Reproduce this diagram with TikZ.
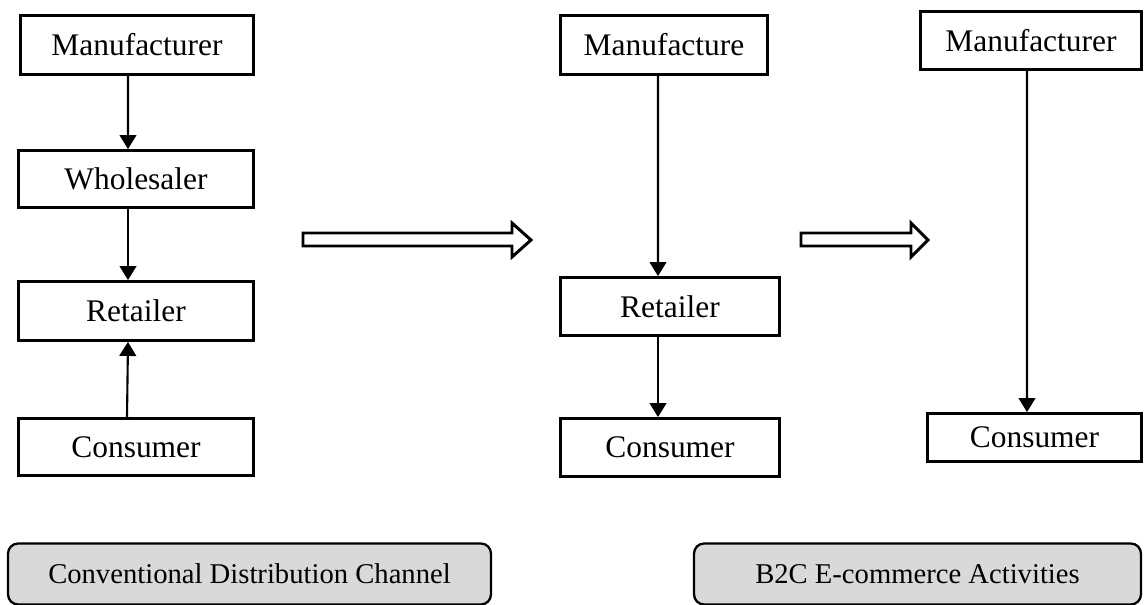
\documentclass[tikz,border=0pt]{standalone}
\usepackage{fontspec}
\setmainfont{Liberation Serif}
\usetikzlibrary{arrows.meta}

\begin{document}
\begin{tikzpicture}
        [
        x=0.02cm, y=-0.02cm,
        box/.style={rectangle, draw, line width=1.6pt, inner sep=0pt, font=\fontsize{17.9}{21}\selectfont},
        channel/.style={rectangle, rounded corners=0.2cm, draw, line width=1.3pt, fill=gray!30, inner sep=0pt, minimum height=1.22cm, font=\fontsize{16.3}{20}\selectfont},
        link/.style={-{Triangle[width=9.5pt,length=8pt]}, line width=1.2pt}
        ]

        \useasboundingbox (0,0) rectangle (1144,605);

        % conventional channel
        \node[box, minimum width=4.66cm, minimum height=1.18cm] (mL) at (137,45) {Manufacturer};
        \node[box, minimum width=4.7cm, minimum height=1.14cm] (wL) at (136,179) {Wholesaler};
        \node[box, minimum width=4.7cm, minimum height=1.18cm] (rL) at (136,311) {Retailer};
        \node[box, minimum width=4.7cm, minimum height=1.14cm] (cL) at (136,447) {Consumer};

        \draw[link] ([xshift=-0.18cm]mL.south) -- ([xshift=-0.16cm]wL.north);
        \draw[link] ([xshift=-0.16cm]wL.south) -- ([xshift=-0.16cm]rL.north);
        \draw[link] ([xshift=-0.18cm]cL.north) -- ([xshift=-0.16cm]rL.south);

        % e-commerce, with retailer
        \node[box, minimum width=4.14cm, minimum height=1.18cm] (mM) at (664,45) {Manufacture};
        \node[box, minimum width=4.38cm, minimum height=1.16cm] (rM) at (670,306.5) {Retailer};
        \node[box, minimum width=4.38cm, minimum height=1.16cm] (cM) at (670,447.5) {Consumer};

        \draw[link] ([xshift=-0.12cm]mM.south) -- ([xshift=-0.24cm]rM.north);
        \draw[link] ([xshift=-0.24cm]rM.south) -- ([xshift=-0.24cm]cM.north);

        % e-commerce, direct
        \node[box, minimum width=4.42cm, minimum height=1.16cm] (mR) at (1031,40.5) {Manufacturer};
        \node[box, minimum width=4.28cm, minimum height=0.96cm] (cR) at (1034.5,437.5) {Consumer};

        \draw[link] ([xshift=-0.08cm]mR.south) -- ([xshift=-0.15cm]cR.north);

        % hollow arrows
        \foreach \xa/\xb/\xc in {303/512/531, 801/911/928}
            \draw[line width=1.7pt] (\xa,233) -- (\xb,233) -- (\xb,223) -- (\xc,240)
                -- (\xb,257) -- (\xb,246) -- (\xa,246) -- cycle;

        \node[channel, minimum width=9.66cm] (chL) at (249.5,574) {Conventional Distribution Channel};
        \node[channel, minimum width=8.94cm] (chR) at (917.5,574) {B2C E-commerce Activities};

    \end{tikzpicture}
\end{document}
